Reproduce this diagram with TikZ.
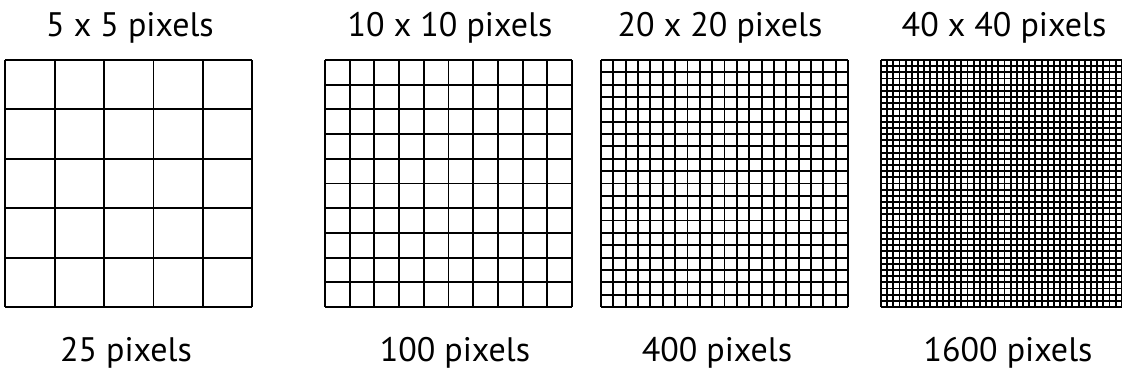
\documentclass[tikz,border=0pt]{standalone}
\usepackage{fontspec}
\setmainfont{PT Sans}
\usetikzlibrary{positioning}
\tikzset{
  gridline/.style={line width=1.9pt, black},
  caption/.style={font=\fontsize{34}{40}\selectfont, anchor=base, inner sep=0pt},
}
\begin{document}
\begin{tikzpicture}[x=1pt, y=1pt]
    \useasboundingbox (0,0) rectangle (1122,374);
    \clip (0,0) rectangle (1122,374);

    % n x n grids, all 247 units wide, top labels and bottom totals
    \foreach \n/\xl/\xt/\xb/\tot in {5/5.3/130/126/25, 10/325/450/455/100, 20/601/720/717/400, 40/881/1004/1008/1600} {
        \begin{scope}[shift={(\xl,67)}]
            \foreach \i in {0,...,\n} {
                \draw[gridline] ({\i*247/\n},0) -- ({\i*247/\n},247);
                \draw[gridline] (0,{\i*247/\n}) -- (247,{\i*247/\n});
            }
        \end{scope}
        \node[caption] (size\n) at (\xt,337.3) {\n\ x \n\ pixels};
        \node[caption] (total\n) at (\xb,12.3) {\tot\ pixels};
    }
\end{tikzpicture}
\end{document}
